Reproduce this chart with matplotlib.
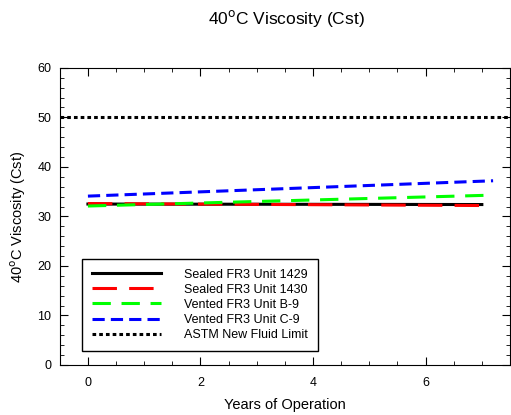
import matplotlib
matplotlib.use("Agg")
import matplotlib.pyplot as plt
from matplotlib.ticker import MultipleLocator

plt.rcParams['font.family'] = ['Liberation Sans', 'DejaVu Sans']

years_sealed = [0, 7.0]
sealed_1429 = [32.5, 32.4]
sealed_1430 = [32.6, 32.2]
years_vented = [0, 7.2]
vented_b9 = [32.1, 34.3]
vented_c9 = [34.1, 37.2]
astm_limit = 50
labels = ["Sealed FR3 Unit 1429", "Sealed FR3 Unit 1430", "Vented FR3 Unit B-9",
          "Vented FR3 Unit C-9", "ASTM New Fluid Limit"]

fig = plt.figure(figsize=(5.11, 4.15), dpi=100)
ax = fig.add_axes([0.117, 0.1205, 0.881, 0.716])

ax.plot(years_sealed, sealed_1429, color='black', lw=2.2, label=labels[0])
ax.plot(years_sealed, sealed_1430, color='red', lw=2.2, dashes=(8, 4), label=labels[1])
ax.plot(years_vented, vented_b9, color='#00ff00', lw=2.2, dashes=(6, 3.5), label=labels[2])
ax.plot(years_vented, vented_c9, color='blue', lw=2.2, dashes=(4, 2), label=labels[3])
ax.axhline(astm_limit, color='black', lw=2.2, dashes=(1.2, 1.0), label=labels[4])

ax.set_xlim(-0.5, 7.5)
ax.set_ylim(0, 60)
ax.xaxis.set_major_locator(MultipleLocator(2))
ax.xaxis.set_minor_locator(MultipleLocator(0.5))
ax.yaxis.set_major_locator(MultipleLocator(10))
ax.yaxis.set_minor_locator(MultipleLocator(2))
ax.tick_params(which='both', direction='in', top=True, right=True, labelsize=9)
ax.tick_params(axis='x', pad=9)
ax.tick_params(axis='y', pad=6)
ax.tick_params(which='major', length=6)
ax.tick_params(which='minor', length=3)

ax.set_xlabel('Years of Operation', fontsize=10.5, labelpad=6)
ax.set_ylabel('40$^{\\mathrm{o}}$C Viscosity (Cst)', fontsize=10.5, labelpad=7)
fig.text(0.561, 0.955, '40$^{\\mathrm{o}}$C Viscosity (Cst)', ha='center', va='center', fontsize=12.5)

leg = ax.legend(loc='lower left', bbox_to_anchor=(0.049, 0.047), borderaxespad=0, fontsize=9,
                handlelength=5.5, frameon=True, fancybox=False, edgecolor='black',
                framealpha=1, borderpad=0.8, labelspacing=0.25, handletextpad=1.9)
leg.get_frame().set_linewidth(1)

fig.savefig('out.png', dpi=100)
